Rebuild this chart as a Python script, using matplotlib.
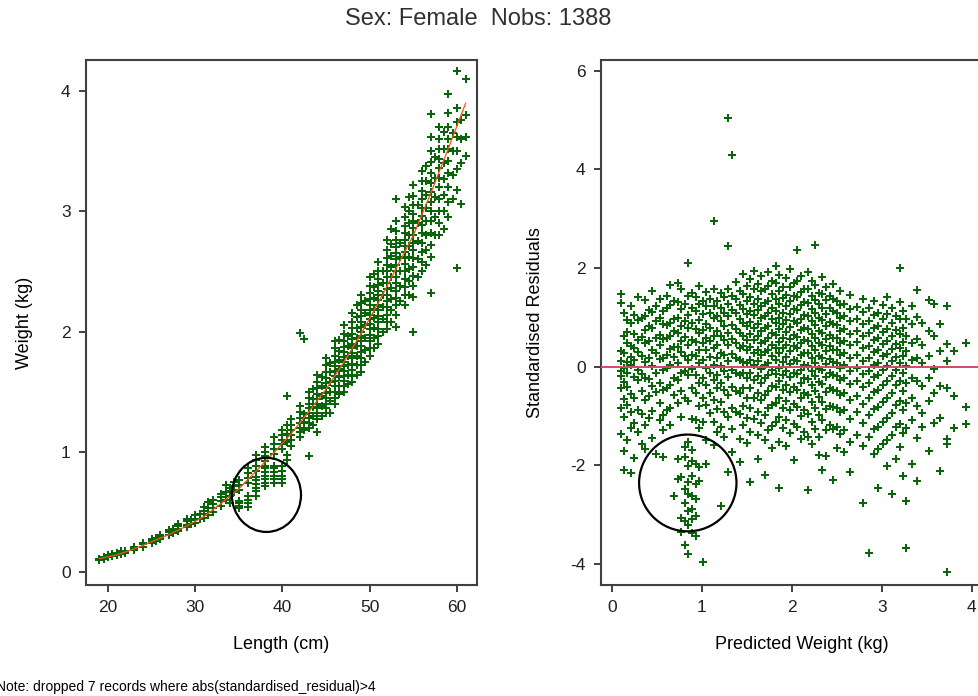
import numpy as np
import matplotlib
matplotlib.use("Agg")
import matplotlib.pyplot as plt
from matplotlib.patches import Ellipse

plt.rcParams['font.family'] = ['Liberation Sans', 'DejaVu Sans']
plt.rcParams['axes.unicode_minus'] = False

# ---- left panel: weight by length (one list of weights per length column)
lengths = [19, 19.5, 20, 20.5, 21, 21.5, 22, 23, 24, 25, 25.5, 26, 27, 27.5, 28, 29, 29.5,
           30, 30.5, 31, 31.5, 32, 33, 33.5, 34, 34.5, 35, 36, 37, 38, 39, 40, 40.5, 41,
           42, 42.5, 43, 43.5, 44, 44.5, 45, 45.5, 46, 46.5, 47, 47.5, 48, 48.5, 49, 49.5,
           50, 50.5, 51, 51.5, 52, 52.5, 53, 53.5, 54, 54.5, 55, 55.5, 56, 56.5, 57, 57.5,
           58, 58.5, 59, 59.5, 60, 60.5, 61]
weights = [
    [0.10, 0.11], [0.11, 0.12], [0.12, 0.13, 0.14], [0.13, 0.15], [0.14, 0.15, 0.16],
    [0.15, 0.17], [0.16, 0.17], [0.18, 0.20, 0.21], [0.21, 0.23, 0.24], [0.24, 0.26, 0.27],
    [0.26, 0.28], [0.27, 0.29, 0.31], [0.31, 0.33, 0.35], [0.32, 0.36],
    [0.34, 0.36, 0.38, 0.40], [0.37, 0.39, 0.42, 0.44], [0.40, 0.43],
    [0.41, 0.44, 0.47], [0.44, 0.48], [0.45, 0.48, 0.51, 0.54], [0.47, 0.53, 0.58],
    [0.50, 0.53, 0.56, 0.60], [0.55, 0.59, 0.62, 0.65], [0.60, 0.66, 0.72],
    [0.57, 0.63, 0.67, 0.70], [0.66, 0.71, 0.75],
    [0.53, 0.55, 0.57, 0.59, 0.68, 0.72, 0.76],
    [0.54, 0.57, 0.60, 0.63, 0.74, 0.78, 0.82, 0.86],
    [0.63, 0.67, 0.70, 0.73, 0.76, 0.79, 0.84, 0.88, 0.93, 0.97],
    [0.71, 0.74, 0.77, 0.80, 0.83, 0.86, 0.88, 0.92, 0.96, 1.00, 1.04],
    [0.74, 0.77, 0.80, 0.83, 0.86, 0.88, 0.98, 1.02, 1.06, 1.12],
    [0.74, 0.77, 0.80, 0.84, 0.88, 1.02, 1.06, 1.10, 1.14, 1.18],
    [0.93, 0.97, 1.08, 1.15, 1.22, 1.46],
    [1.05, 1.10, 1.14, 1.18, 1.22, 1.27],
    [1.12, 1.16, 1.20, 1.24, 1.28, 1.33, 1.38, 1.99],
    [1.18, 1.25, 1.31, 1.94],
    [0.96, 1.20, 1.24, 1.28, 1.32, 1.36, 1.40, 1.45, 1.50],
    [1.22, 1.30, 1.37, 1.44, 1.52],
    [1.16, 1.27, 1.32, 1.36, 1.40, 1.44, 1.48, 1.53, 1.58, 1.64],
    [1.30, 1.38, 1.46, 1.55, 1.62],
    [1.32, 1.36, 1.40, 1.45, 1.49, 1.53, 1.57, 1.61, 1.66, 1.72, 1.78],
    [1.32, 1.42, 1.50, 1.58, 1.66, 1.74],
    [1.40, 1.45, 1.50, 1.55, 1.59, 1.63, 1.67, 1.71, 1.75, 1.80, 1.86, 1.92],
    [1.48, 1.55, 1.62, 1.69, 1.76, 1.84, 1.93],
    [1.50, 1.55, 1.59, 1.63, 1.67, 1.71, 1.75, 1.79, 1.83, 1.87, 1.92, 1.98, 2.05],
    [1.56, 1.64, 1.72, 1.80, 1.88, 1.96],
    [1.58, 1.63, 1.68, 1.73, 1.78, 1.82, 1.86, 1.90, 1.94, 1.98, 2.03, 2.08, 2.15],
    [1.64, 1.72, 1.80, 1.88, 1.95, 2.03, 2.12, 2.22],
    [1.66, 1.72, 1.78, 1.83, 1.88, 1.92, 1.96, 2.00, 2.04, 2.08, 2.13, 2.18, 2.24, 2.30],
    [1.75, 1.85, 1.95, 2.05, 2.15, 2.25],
    [1.80, 1.86, 1.92, 1.97, 2.02, 2.06, 2.10, 2.14, 2.18, 2.22, 2.27, 2.32, 2.38, 2.45],
    [1.86, 1.95, 2.03, 2.11, 2.19, 2.28, 2.37, 2.48],
    [1.90, 1.96, 2.02, 2.08, 2.13, 2.18, 2.22, 2.26, 2.30, 2.34, 2.39, 2.44, 2.50, 2.58],
    [2.00, 2.10, 2.20, 2.30, 2.40, 2.50],
    [2.02, 2.08, 2.14, 2.20, 2.25, 2.30, 2.35, 2.40, 2.45, 2.50, 2.55, 2.61, 2.68, 2.76],
    [2.08, 2.18, 2.27, 2.36, 2.45, 2.54, 2.63, 2.73, 2.85],
    [2.04, 2.14, 2.22, 2.28, 2.34, 2.40, 2.45, 2.50, 2.55, 2.60, 2.65, 2.70, 2.76, 2.84, 2.92, 3.10],
    [2.25, 2.38, 2.50, 2.62, 2.74],
    [2.22, 2.30, 2.37, 2.44, 2.50, 2.56, 2.61, 2.66, 2.71, 2.76, 2.82, 2.88, 2.95, 3.04],
    [2.30, 2.42, 2.52, 2.62, 2.71, 2.80, 2.90, 3.00, 3.12],
    [2.00, 2.29, 2.38, 2.46, 2.54, 2.61, 2.68, 2.74, 2.80, 2.86, 2.92, 2.98, 3.05, 3.13, 3.22],
    [2.45, 2.60, 2.75, 2.90, 3.05],
    [2.50, 2.58, 2.66, 2.74, 2.82, 2.89, 2.96, 3.03, 3.10, 3.17, 3.25, 3.34],
    [2.55, 2.68, 2.80, 2.92, 3.03, 3.14, 3.25, 3.38],
    [2.32, 2.62, 2.72, 2.82, 2.92, 3.00, 3.08, 3.16, 3.24, 3.32, 3.41, 3.50, 3.62, 3.81],
    [2.80, 2.95, 3.12, 3.28, 3.45],
    [2.80, 2.90, 3.00, 3.10, 3.20, 3.28, 3.36, 3.44, 3.52, 3.60, 3.70],
    [2.85, 3.00, 3.14, 3.27, 3.40, 3.52, 3.66],
    [2.95, 3.08, 3.20, 3.32, 3.42, 3.52, 3.60, 3.70, 3.82, 3.98],
    [3.10, 3.30, 3.50, 3.65],
    [2.53, 3.18, 3.35, 3.50, 3.62, 3.74, 3.86, 4.17],
    [3.06, 3.40, 3.60, 3.76],
    [3.46, 3.62, 3.80, 4.10],
]

# fitted curve
fit_length = [19, 21, 23, 25, 27, 29, 31, 33, 35, 37, 39, 41, 43, 45, 47, 49, 51, 53, 55, 57, 59, 61]
fit_weight = [0.11, 0.14, 0.19, 0.25, 0.31, 0.38, 0.46, 0.57, 0.69, 0.84, 0.99, 1.15, 1.33,
              1.52, 1.74, 1.98, 2.24, 2.52, 2.80, 3.15, 3.52, 3.90]

# ---- right panel: standardised residuals by predicted weight (one list per column)
pred_weight = [0.10, 0.13, 0.17, 0.21, 0.25, 0.29, 0.33, 0.37, 0.41, 0.45, 0.49, 0.53, 0.57,
               0.61, 0.65, 0.69, 0.73, 0.77, 0.81, 0.85, 0.89, 0.93, 0.97, 1.01, 1.05, 1.09,
               1.13, 1.17, 1.21, 1.25, 1.29, 1.34, 1.38, 1.42, 1.46, 1.50, 1.54, 1.58, 1.62,
               1.66, 1.70, 1.74, 1.78, 1.82, 1.86, 1.90, 1.94, 1.98, 2.02, 2.06, 2.10, 2.14,
               2.18, 2.22, 2.26, 2.30, 2.34, 2.38, 2.42, 2.46, 2.50, 2.54, 2.58, 2.65, 2.72,
               2.79, 2.86, 2.91, 2.96, 3.01, 3.06, 3.11, 3.16, 3.20, 3.24, 3.27, 3.33, 3.39,
               3.45, 3.52, 3.58, 3.65, 3.72, 3.80, 3.93]
residuals = [
    [1.47, 1.29, 0.31, 0.12, -0.08, -0.19, -0.44, -0.83, -1.36],
    [1.08, 0.62, 0.27, -0.02, -0.31, -0.66, -1.02, -1.72, -2.09],
    [0.94, 0.71, 0.48, 0.09, -0.12, -0.41, -0.78, -1.49],
    [1.23, 0.88, 0.42, 0.19, 0.03, -0.55, -0.93, -1.24, -2.15],
    [1.04, 0.66, 0.37, 0.14, -0.21, -0.63, -1.15, -1.85],
    [1.41, 0.95, 0.53, 0.29, -0.06, -0.27, -0.88, -1.33],
    [0.99, 0.60, 0.22, -0.14, -0.49, -0.97, -1.58],
    [1.36, 1.02, 0.74, 0.47, 0.09, -0.23, -0.68, -1.19, -1.67],
    [1.14, 0.82, 0.51, 0.18, -0.26, -0.59, -1.04],
    [1.53, 1.11, 0.79, 0.33, 0.01, -0.39, -0.91, -1.44],
    [1.22, 0.93, 0.58, 0.28, -0.13, -0.52, -1.78],
    [1.38, 0.98, 0.64, 0.44, 0.16, -0.33, -0.74, -1.09],
    [1.13, 0.86, 0.55, 0.17, -0.07, -0.47, -0.99, -1.28, -1.84],
    [1.44, 1.19, 0.84, 0.59, 0.23, -0.02, -0.44, -0.89],
    [1.66, 1.24, 0.89, 0.63, 0.35, 0.04, -0.38, -0.84, -1.18],
    [1.34, 0.97, 0.73, 0.39, 0.19, -0.24, -0.58, -2.62],
    [1.69, 1.31, 0.99, 0.68, 0.39, 0.08, -0.28, -0.73, -1.88, -2.29],
    [1.58, 1.17, 0.83, 0.52, 0.29, -0.13, -0.49, -1.03, -2.24, -3.08, -3.35],
    [1.27, 0.92, 0.61, 0.21, -0.09, -0.63, -1.63, -1.84, -2.48, -2.77, -3.13, -3.62],
    [2.11, 1.43, 1.04, 0.78, 0.43, 0.13, -0.18, -0.69, -1.53, -2.02, -2.34, -2.58, -2.93, -3.21, -3.81],
    [1.49, 1.18, 0.88, 0.54, 0.24, -0.04, -0.43, -1.06, -1.69, -1.91, -2.21, -2.63, -2.88, -3.09, -3.38],
    [1.42, 1.13, 0.77, 0.49, 0.22, -0.17, -0.53, -1.09, -1.97, -2.39, -2.69, -3.03, -3.44],
    [1.63, 1.28, 0.94, 0.69, 0.33, 0.07, -0.33, -0.79, -1.24, -2.04, -2.33],
    [1.33, 1.07, 0.74, 0.48, 0.13, -0.23, -0.64, -1.13, -3.97],
    [1.52, 1.23, 0.87, 0.58, 0.34, -0.03, -0.37, -0.78, -1.48, -1.98],
    [1.38, 1.09, 0.79, 0.52, 0.19, -0.12, -0.53, -0.94],
    [2.95, 1.57, 1.22, 0.98, 0.63, 0.38, 0.03, -0.27, -0.67, -1.12, -1.59],
    [1.34, 1.03, 0.73, 0.44, 0.17, -0.18, -0.44, -0.87, -1.33],
    [1.49, 1.19, 0.93, 0.62, 0.28, 0.02, -0.33, -0.72, -1.23, -2.83],
    [1.42, 1.08, 0.83, 0.53, 0.23, -0.08, -0.47, -0.93, -1.43],
    [5.04, 2.44, 1.58, 1.27, 1.02, 0.69, 0.43, 0.12, -0.22, -0.58, -1.03, -2.13],
    [4.29, 1.44, 1.14, 0.84, 0.57, 0.26, -0.07, -0.42, -0.83, -1.27, -1.73],
    [1.72, 1.37, 1.08, 0.77, 0.48, 0.18, -0.12, -0.49, -0.92],
    [1.54, 1.24, 0.97, 0.68, 0.38, 0.13, -0.18, -0.54, -0.97, -1.47, -1.93],
    [1.87, 1.48, 1.17, 0.88, 0.63, 0.41, 0.09, -0.13, -0.43, -0.79, -1.19],
    [1.63, 1.33, 1.07, 0.83, 0.53, 0.33, 0.07, -0.24, -0.63, -1.04, -1.54],
    [1.78, 1.42, 1.13, 0.91, 0.66, 0.39, 0.14, -0.12, -0.43, -0.83, -1.33, -2.34],
    [1.94, 1.58, 1.28, 1.04, 0.78, 0.54, 0.28, 0.03, -0.28, -0.63, -1.07],
    [1.68, 1.37, 1.14, 0.87, 0.63, 0.33, 0.12, -0.19, -0.53, -0.93, -1.38, -1.87],
    [1.83, 1.53, 1.23, 0.99, 0.72, 0.48, 0.24, -0.04, -0.33, -0.68, -1.14],
    [1.57, 1.29, 1.03, 0.78, 0.52, 0.29, 0.04, -0.23, -0.58, -0.99, -1.48, -2.19],
    [1.92, 1.63, 1.33, 1.08, 0.83, 0.58, 0.33, 0.08, -0.18, -0.49, -0.84, -1.29],
    [1.74, 1.47, 1.19, 0.96, 0.69, 0.44, 0.21, -0.07, -0.39, -0.77, -1.21, -1.66],
    [2.04, 1.69, 1.37, 1.12, 0.88, 0.64, 0.38, 0.13, -0.14, -0.42, -0.74, -1.12],
    [1.86, 1.54, 1.27, 0.99, 0.77, 0.49, 0.27, -0.02, -0.29, -0.64, -1.03, -1.53, -2.47],
    [1.61, 1.39, 1.09, 0.86, 0.58, 0.37, 0.09, -0.17, -0.47, -0.83, -1.24],
    [1.79, 1.46, 1.22, 0.94, 0.71, 0.43, 0.19, -0.09, -0.37, -0.69, -1.08, -1.62],
    [1.97, 1.62, 1.34, 1.06, 0.81, 0.56, 0.32, 0.06, -0.21, -0.52, -0.88, -1.34],
    [1.69, 1.43, 1.16, 0.92, 0.64, 0.41, 0.14, -0.12, -0.41, -0.76, -1.17, -1.89],
    [2.36, 1.73, 1.41, 1.14, 0.89, 0.61, 0.38, 0.11, -0.16, -0.47, -0.82, -1.23],
    [1.84, 1.52, 1.24, 0.97, 0.74, 0.47, 0.23, -0.06, -0.33, -0.64, -1.01, -1.47],
    [1.58, 1.32, 1.04, 0.79, 0.54, 0.28, 0.03, -0.24, -0.54, -0.88, -1.32],
    [1.91, 1.57, 1.29, 1.03, 0.76, 0.52, 0.27, 0.02, -0.26, -0.58, -0.96, -1.42, -2.51],
    [1.73, 1.44, 1.17, 0.93, 0.66, 0.42, 0.17, -0.09, -0.38, -0.72, -1.13, -1.58],
    [2.46, 1.66, 1.36, 1.09, 0.84, 0.58, 0.33, 0.08, -0.19, -0.49, -0.84, -1.27],
    [1.49, 1.26, 0.99, 0.73, 0.47, 0.22, -0.04, -0.31, -0.62, -0.98, -1.43, -1.79],
    [1.81, 1.48, 1.19, 0.94, 0.68, 0.43, 0.18, -0.07, -0.36, -0.71, -1.09, -2.09],
    [1.62, 1.36, 1.07, 0.82, 0.56, 0.31, 0.06, -0.22, -0.52, -0.87, -1.29, -1.81],
    [1.43, 1.18, 0.91, 0.64, 0.41, 0.16, -0.13, -0.44, -0.79, -1.19],
    [1.68, 1.37, 1.12, 0.86, 0.59, 0.34, 0.09, -0.17, -0.47, -0.82, -1.26, -2.31],
    [1.33, 1.09, 0.84, 0.58, 0.33, 0.07, -0.19, -0.49, -0.84, -1.22, -1.66],
    [1.54, 1.24, 0.98, 0.72, 0.47, 0.24, -0.02, -0.28, -0.57, -0.93, -1.37],
    [1.27, 1.03, 0.77, 0.52, 0.28, 0.03, -0.23, -0.53, -0.88, -1.28, -1.74],
    [1.46, 1.17, 0.92, 0.67, 0.43, 0.18, -0.08, -0.36, -0.68, -1.06, -1.52, -2.13],
    [1.21, 0.97, 0.73, 0.49, 0.23, -0.03, -0.29, -0.59, -0.93, -1.39],
    [1.38, 1.11, 0.86, 0.62, 0.37, 0.12, -0.14, -0.42, -0.76, -1.14, -1.61, -2.76],
    [1.18, 0.93, 0.68, 0.42, 0.17, -0.08, -0.34, -0.64, -0.99, -1.43, -3.78],
    [1.33, 1.04, 0.79, 0.54, 0.29, 0.04, -0.22, -0.51, -0.87, -1.27, -1.77],
    [1.09, 0.83, 0.58, 0.33, 0.08, -0.18, -0.47, -0.82, -1.22, -1.68, -2.46],
    [1.24, 0.96, 0.71, 0.46, 0.21, -0.07, -0.37, -0.72, -1.12, -1.57],
    [1.41, 1.07, 0.77, 0.51, 0.26, 0.01, -0.29, -0.64, -1.04, -1.49, -2.02],
    [1.19, 0.89, 0.62, 0.36, 0.11, -0.19, -0.54, -0.94, -1.39, -2.59],
    [1.03, 0.74, 0.46, 0.19, -0.07, -0.37, -0.77, -1.23, -1.87],
    [2.01, 1.31, 0.97, 0.67, 0.37, 0.07, -0.29, -0.69, -1.17, -1.63],
    [1.12, 0.79, 0.49, 0.22, -0.13, -0.49, -0.89, -1.34, -2.22],
    [0.96, 0.62, 0.32, 0.02, -0.34, -0.74, -1.24, -2.72, -3.67],
    [1.22, 0.87, 0.47, 0.13, -0.24, -0.64, -1.09, -1.98],
    [1.56, 1.01, 0.57, 0.17, -0.29, -0.79, -1.44, -2.32],
    [0.89, 0.44, 0.07, -0.39, -0.94, -1.22],
    [1.36, 0.72, 0.22, -0.24, -0.69, -1.72],
    [1.26, 0.62, -0.04, -0.54, -1.14],
    [0.86, 0.32, -0.39, -1.04, -2.12],
    [1.22, 0.46, 0.12, -0.44, -1.46, -1.57, -4.17],
    [0.31, -0.59, -1.24],
    [0.48, -0.81, -1.16],
]
assert len(pred_weight) == len(residuals)
assert len(lengths) == len(weights)

green = '#0a640a'
fig = plt.figure(figsize=(9.79, 6.96), dpi=100)


def style_axes(ax):
    for s in ax.spines.values():
        s.set_linewidth(1.5)
        s.set_color('#404040')
    ax.tick_params(direction='out', length=5, width=1.2, labelsize=12.5,
                   colors='#202020', pad=6)


# left panel
ax1 = fig.add_axes([0.0878, 0.1595, 0.3994, 0.7543])
lx = [l for l, ws in zip(lengths, weights) for w in ws]
ly = [w for ws in weights for w in ws]
ax1.plot(lx, ly, 'P', color=green, ms=5.2, mew=0, zorder=2)
ax1.plot(fit_length, fit_weight, color='#ff4f1a', lw=0.9, zorder=3)
ax1.add_patch(Ellipse((38.16, 0.64), 7.93, 0.617, fill=False, ec='black', lw=1.6, zorder=4))
ax1.set_xlim(17.47, 62.3)
ax1.set_ylim(-0.11, 4.26)
ax1.set_xticks([20, 30, 40, 50, 60])
ax1.set_yticks([0, 1, 2, 3, 4])
ax1.set_xlabel('Length (cm)', fontsize=13, labelpad=15)
ax1.set_ylabel('Weight (kg)', fontsize=13, labelpad=20)
style_axes(ax1)

# right panel
ax2 = fig.add_axes([0.6139, 0.1595, 0.411, 0.7543])
rx = [p for p, rs in zip(pred_weight, residuals) for r in rs]
ry = [r for rs in residuals for r in rs]
ax2.plot(rx, ry, 'P', color=green, ms=5.2, mew=0, zorder=2)
ax2.axhline(0, color='#d04a6a', lw=1.4, zorder=3)
ax2.add_patch(Ellipse((0.844, -2.36), 1.082, 1.963, fill=False, ec='black', lw=1.6, zorder=4))
ax2.set_xlim(-0.12, 4.35)
ax2.set_ylim(-4.43, 6.22)
ax2.set_xticks([0, 1, 2, 3, 4])
ax2.set_yticks([-4, -2, 0, 2, 4, 6])
ax2.set_xlabel('Predicted Weight (kg)', fontsize=13, labelpad=15)
ax2.set_ylabel('Standardised Residuals', fontsize=13, labelpad=19)
style_axes(ax2)

fig.text(0.488, 0.972, 'Sex: Female  Nobs: 1388', ha='center', va='center',
         fontsize=17, color='#303030')
fig.text(-0.004, 0.013, 'Note: dropped 7 records where abs(standardised_residual)>4',
         ha='left', va='center', fontsize=10, color='black')

fig.savefig('out.png', dpi=100)
